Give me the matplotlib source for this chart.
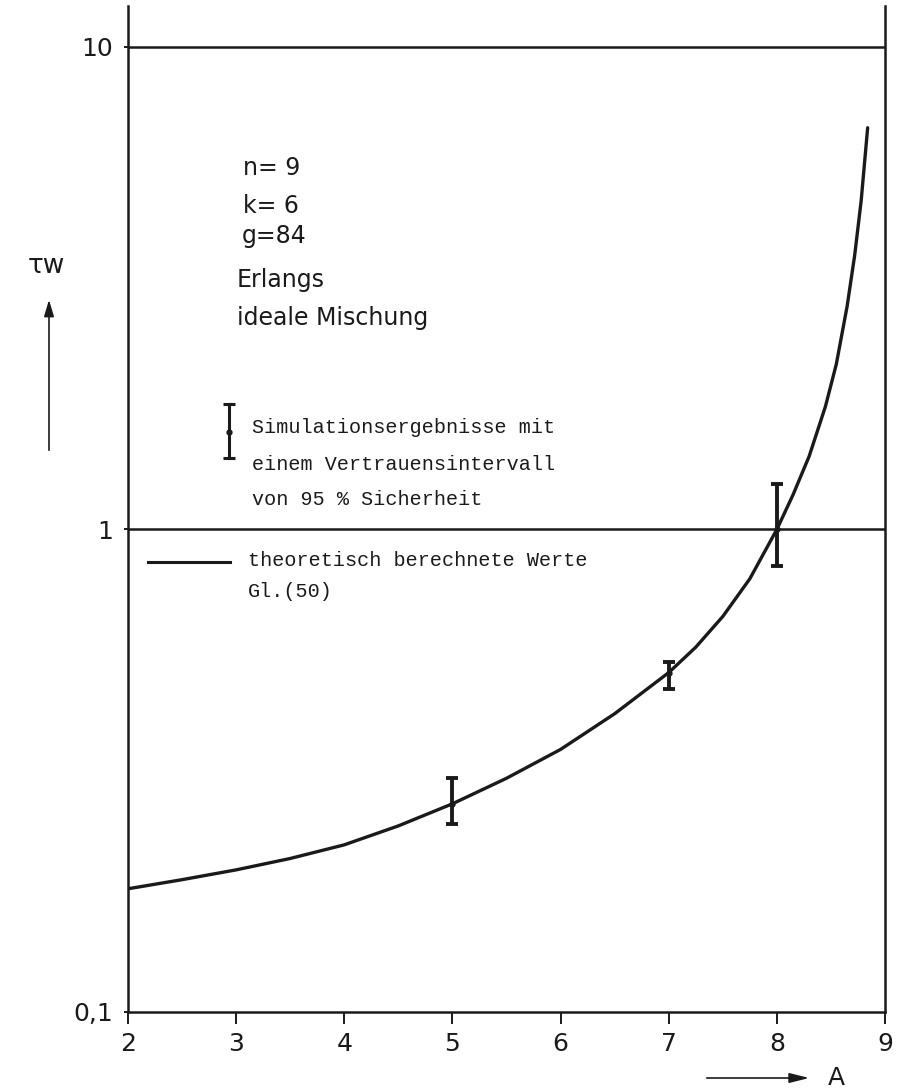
import numpy as np
import matplotlib
matplotlib.use('Agg')
import matplotlib.pyplot as plt

# --- данные ---
# теоретическая кривая Gl.(50)
A_curve = [2, 2.5, 3, 3.5, 4, 4.5, 5, 5.5, 6, 6.5, 7, 7.25, 7.5, 7.75, 8,
           8.15, 8.3, 8.45, 8.55, 8.65, 8.72, 8.78, 8.84]
tau_curve = [0.18, 0.188, 0.197, 0.208, 0.222, 0.243, 0.27, 0.305, 0.35, 0.415, 0.505,
             0.57, 0.66, 0.79, 1.0, 1.18, 1.42, 1.8, 2.2, 2.9, 3.7, 4.8, 6.8]

# результаты моделирования с доверительным интервалом 95 %
A_sim = [5, 7, 8]
tau_sim = [0.27, 0.505, 1.0]
tau_lo = [0.245, 0.468, 0.84]
tau_hi = [0.305, 0.532, 1.24]

x_ticks = [2, 3, 4, 5, 6, 7, 8, 9]
y_ticks = [0.1, 1, 10]
y_ticklabels = ['0,1', '1', '10']

info_lines = ['n= 9', 'k= 6', 'g=84', 'Erlangs', 'ideale Mischung']
sim_label = ['Simulationsergebnisse mit', 'einem Vertrauensintervall', 'von 95 % Sicherheit']
theo_label = ['theoretisch berechnete Werte', 'Gl.(50)']

ink = '#1a1a1a'
mono = 'Liberation Mono'

fig = plt.figure(figsize=(9.07, 10.88), dpi=100)
ax = fig.add_axes([0.1411, 0.0699, 0.8346, 0.9246])

ax.set_yscale('log')
ax.set_xlim(2, 9)
ax.set_ylim(0.1, 12.16)

# кривая и точки с усами
ax.plot(A_curve, tau_curve, color=ink, lw=2.4, solid_capstyle='round', solid_joinstyle='round')
err = [np.array(tau_sim) - np.array(tau_lo), np.array(tau_hi) - np.array(tau_sim)]
ax.errorbar(A_sim, tau_sim, yerr=err, fmt='o', ms=3.5, color=ink,
            elinewidth=2.8, capsize=4.5, capthick=2.8)

# горизонтальные линии на 1 и 10
for yv in [1, 10]:
    ax.axhline(yv, color=ink, lw=1.8)

# оси
for s in ['left', 'right', 'bottom']:
    ax.spines[s].set_linewidth(1.8)
    ax.spines[s].set_color(ink)
ax.spines['top'].set_visible(False)

ax.set_xticks(x_ticks)
ax.set_xticklabels([str(v) for v in x_ticks])
ax.set_yticks(y_ticks)
ax.set_yticklabels(y_ticklabels)
ax.yaxis.set_minor_locator(matplotlib.ticker.NullLocator())
ax.tick_params(axis='x', direction='out', length=8.5, width=1.4, pad=6,
               labelsize=18, colors=ink)
ax.tick_params(axis='y', direction='out', length=3, width=1.4, pad=8,
               labelsize=18, colors=ink)

# текстовый блок с параметрами
def yfrac(py):
    return (1012 - py) / 1006.0

def xfrac(px):
    return (px - 128) / 757.0

info_pos = [(243, 168), (243, 206), (242, 236), (237, 280), (237, 318)]
for txt, (px, py) in zip(info_lines, info_pos):
    ax.text(xfrac(px), yfrac(py), txt, transform=ax.transAxes, fontsize=17,
            color=ink, ha='left', va='center')

# легенда: символ усов
lx = xfrac(229)
ax.plot([lx, lx], [yfrac(458), yfrac(404)], transform=ax.transAxes, color=ink, lw=2.2)
ax.plot([lx, lx], [yfrac(458), yfrac(404)], transform=ax.transAxes, color=ink,
        ls='none', marker='_', ms=9, mew=2.2)
ax.plot([lx], [yfrac(432)], transform=ax.transAxes, color=ink, marker='o', ms=3.5)
for txt, py in zip(sim_label, [428, 465, 500]):
    ax.text(xfrac(252), yfrac(py), txt, transform=ax.transAxes, fontsize=14.5,
            family=mono, color=ink, ha='left', va='center')

# легенда: линия
ax.plot([xfrac(148), xfrac(230)], [yfrac(562), yfrac(562)], transform=ax.transAxes,
        color=ink, lw=2.2)
for txt, py in zip(theo_label, [561, 592]):
    ax.text(xfrac(248), yfrac(py), txt, transform=ax.transAxes, fontsize=14.5,
            family=mono, color=ink, ha='left', va='center')

# подписи осей со стрелками
fig.text(46 / 907, 1 - 266 / 1088, 'τw', fontsize=19, color=ink, ha='center', va='center')
fig.add_artist(matplotlib.patches.FancyArrowPatch(
    (49 / 907, 1 - 453 / 1088), (49 / 907, 1 - 297 / 1088), transform=fig.transFigure,
    arrowstyle='-|>,head_length=10,head_width=3', mutation_scale=1, color=ink, lw=1.2))
fig.add_artist(matplotlib.patches.FancyArrowPatch(
    (704 / 907, 1 - 1078 / 1088), (812 / 907, 1 - 1078 / 1088), transform=fig.transFigure,
    arrowstyle='-|>,head_length=12,head_width=3', mutation_scale=1, color=ink, lw=1.2))
fig.text(836 / 907, 1 - 1078 / 1088, 'A', fontsize=18, color=ink, ha='center', va='center')

fig.savefig('out.png', dpi=100)
